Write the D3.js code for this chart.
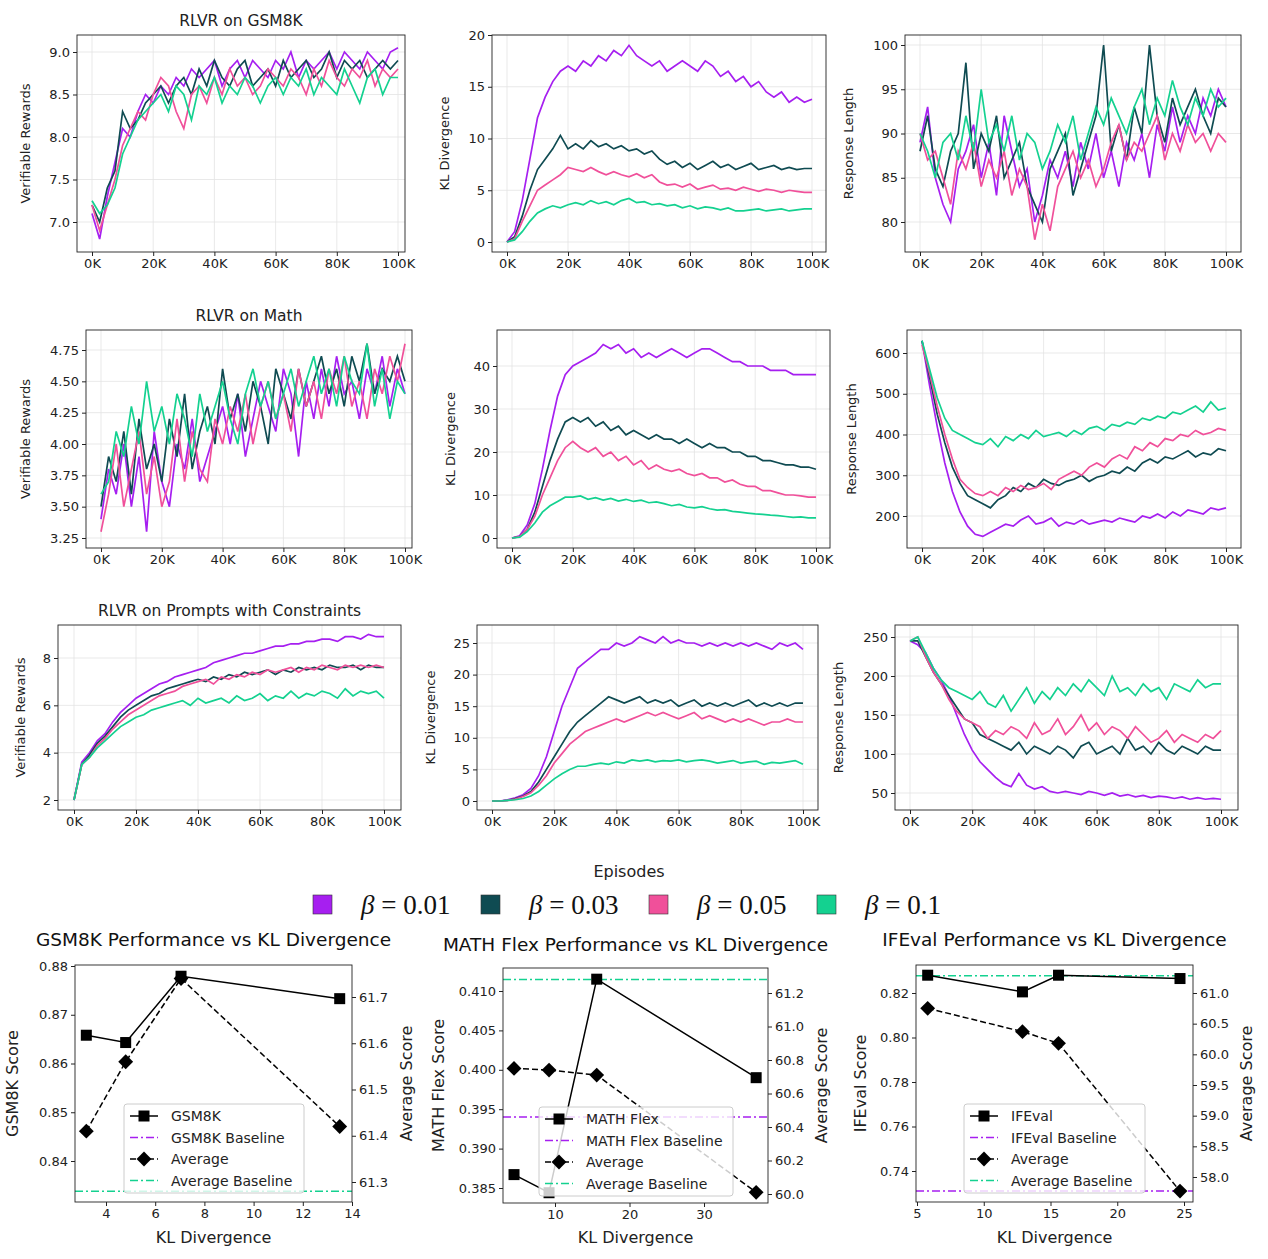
<!DOCTYPE html>
<html><head><meta charset="utf-8">
<script src="https://cdn.jsdelivr.net/npm/d3@7"></script>
<style>body{margin:0;background:#fff}text{font-family:"DejaVu Sans",sans-serif}text.serif{font-family:"Liberation Serif","DejaVu Serif",serif}</style>
</head><body><svg id="c" width="1268" height="1259"></svg>
<script>
const steps = d3.range(0, 100001, 2500);
const betas = ["0.01","0.03","0.05","0.1"];
const colors = ["#a61ff0","#0f4b52","#f0509a","#14d190"];

const gsmReward = [
[7.1,6.8,7.3,7.7,8.1,8.0,8.3,8.5,8.4,8.6,8.5,8.7,8.6,8.8,8.7,8.8,8.9,8.6,8.8,8.9,8.7,8.9,8.8,8.7,8.9,8.8,9.0,8.7,8.9,8.8,8.9,9.0,8.8,9.0,8.9,8.8,9.0,8.9,8.8,9.0,9.05],
[7.2,7.0,7.4,7.6,8.3,8.1,8.2,8.4,8.5,8.6,8.4,8.6,8.7,8.5,8.8,8.6,8.9,8.7,8.6,8.8,8.9,8.6,8.7,8.8,8.6,8.9,8.7,8.8,8.9,8.7,8.8,9.0,8.7,8.9,8.8,8.9,8.7,8.8,8.9,8.8,8.9],
[7.2,6.9,7.2,7.5,7.9,8.1,8.3,8.2,8.5,8.7,8.6,8.3,8.1,8.5,8.6,8.4,8.7,8.5,8.8,8.6,8.7,8.5,8.6,8.8,8.7,8.6,8.8,8.7,8.5,8.8,8.6,8.9,8.7,8.6,8.8,8.7,8.9,8.6,8.8,8.7,8.8],
[7.25,7.1,7.2,7.4,7.8,8.0,8.2,8.3,8.4,8.5,8.3,8.6,8.5,8.2,8.6,8.5,8.7,8.4,8.6,8.5,8.7,8.6,8.4,8.6,8.7,8.5,8.7,8.6,8.8,8.5,8.7,8.6,8.5,8.8,8.6,8.4,8.7,8.8,8.5,8.7,8.7]];
const gsmKL = [
[0,1,4,8,12,14,15.5,16.5,17,16.5,17.5,17,18,17.5,18.5,18,19,18,17.5,17,17.5,16.5,17,17.5,17,16.5,17.5,17,16,16.5,15.5,16,15,15.5,14.5,14,14.5,13.5,14,13.5,13.8],
[0,0.5,2.5,5,7,8,9,10.3,9,9.5,9,9.8,9.2,9.5,9,9.3,8.8,9,8.5,8.8,8,7.5,7.8,7.2,7.6,7,7.4,7.8,7.2,7.5,7,7.3,7.6,7,7.2,7.4,7,7.2,7,7.1,7.1],
[0,0.3,2,3.5,5,5.5,6,6.5,7.2,7,6.8,7.2,6.8,6.5,6.8,6.5,6.3,6.6,6.2,6.5,5.8,5.5,5.6,5.3,5.6,5.1,5.3,5.5,5.1,5.2,5,5.3,5.1,4.9,5.1,5,4.8,5,4.9,4.8,4.8],
[0,0.2,1,2,2.8,3.2,3.5,3.3,3.6,3.8,3.6,4,3.7,3.9,3.6,4,4.2,3.8,3.9,3.6,3.7,3.5,3.6,3.3,3.5,3.2,3.4,3.3,3.1,3.3,3,3,3.1,3.2,3,3.1,3.2,3,3.1,3.2,3.2]];
const gsmLen = [
[89,93,85,82,80,86,88,91,85,89,83,92,88,84,86,80,83,87,85,88,84,89,86,90,85,88,84,89,87,90,85,91,88,93,89,92,90,94,92,95,93],
[88,92,86,84,88,90,98,86,90,88,92,85,87,89,84,82,80,86,88,90,83,86,89,92,100,88,91,87,93,90,100,92,89,94,91,93,95,92,90,94,93],
[90,87,88,85,82,88,86,89,84,87,85,88,83,86,84,78,82,79,84,86,88,85,87,84,86,89,91,87,89,88,90,92,87,90,88,91,89,90,88,90,89],
[90,88,85,89,90,87,92,88,95,89,91,88,92,87,90,89,86,88,91,89,92,87,90,93,91,94,92,90,93,95,91,94,92,96,93,91,94,92,95,93,94]];
const mathReward = [
[3.4,3.8,3.6,4.0,3.5,3.9,3.3,4.1,3.7,3.5,4.0,3.8,4.2,3.7,3.9,4.1,4.3,4.0,4.4,3.9,4.2,4.5,4.3,4.1,4.6,4.4,3.9,4.5,4.2,4.6,4.3,4.7,4.4,4.5,4.2,4.6,4.4,4.7,4.3,4.6,4.4],
[3.5,3.9,3.7,4.1,3.6,4.2,3.8,4.0,3.7,4.2,3.9,4.4,3.8,4.1,4.3,4.0,4.6,4.2,4.4,4.1,4.5,4.3,4.0,4.6,4.4,4.2,4.6,4.3,4.5,4.7,4.4,4.6,4.3,4.7,4.5,4.8,4.4,4.6,4.5,4.7,4.5],
[3.3,3.6,4.0,3.5,3.8,4.1,3.6,3.9,3.5,3.7,4.2,3.7,4.1,3.8,3.7,4.2,4.0,4.3,4.1,4.4,4.0,4.3,4.5,4.2,4.4,4.1,4.6,4.3,4.5,4.2,4.6,4.4,4.7,4.3,4.5,4.2,4.6,4.4,4.7,4.5,4.8],
[3.6,3.7,4.1,3.9,4.3,4.0,4.5,4.1,4.3,4.0,4.4,4.2,3.9,4.4,4.1,4.3,4.5,4.2,4.0,4.4,4.6,4.3,4.5,4.2,4.4,4.6,4.3,4.5,4.7,4.4,4.6,4.3,4.7,4.5,4.4,4.8,4.3,4.6,4.2,4.5,4.4]];
const mathKL = [
[0,0.5,3,8,16,25,33,38,40,41,42,43,45,44,45,43,44,42,43,42,43,44,43,42,43,44,44,43,42,41,41,40,40,40,39,39,39,38,38,38,38],
[0,0.3,2,6,12,18,23,27,28,27,28,26,27,25,26,24,25,24,23,24,23,23,22,23,22,21,22,21,21,20,20,19,19,18,18,17.5,17,17,16.5,16.5,16],
[0,0.3,2,5,10,14,18,21,22.5,21,20,21,19,20,18,19,17,18,16,17,16,15.5,16,15,14.5,15,14,14,13,13.5,12.5,12,12,11,11,10.5,10,10,9.8,9.5,9.5],
[0,0.2,1.5,3.5,6,7.5,8.5,9.5,9.5,9.8,9,9.4,8.8,9.2,8.6,9,8.5,8.8,8.2,8.4,8,7.5,7.8,7.2,7,7.3,6.8,6.5,6.6,6.2,6,5.8,5.6,5.5,5.3,5.2,5,4.8,4.9,4.7,4.7]];
const mathLen = [
[630,520,420,330,260,210,175,155,150,160,170,180,175,190,200,180,185,195,175,185,180,190,180,185,190,185,195,190,185,200,195,205,195,210,200,215,210,205,220,215,220],
[630,540,450,380,320,280,250,240,230,220,240,250,270,260,280,270,290,280,275,285,290,300,285,295,300,310,305,320,310,330,340,330,345,340,350,360,345,355,350,365,360],
[620,550,470,400,340,290,270,255,250,260,250,270,260,275,265,270,280,265,290,300,310,300,320,330,320,340,350,340,370,360,380,370,390,385,400,395,410,400,405,415,410],
[630,560,490,440,410,400,390,380,375,390,370,395,385,400,390,410,395,400,405,395,410,400,415,420,410,425,420,430,425,440,435,445,440,455,450,460,470,455,480,460,465]];
const ifReward = [
[2,3.6,4,4.5,4.8,5.3,5.7,6,6.3,6.5,6.7,6.9,7,7.2,7.3,7.4,7.5,7.6,7.8,7.9,8,8.1,8.2,8.2,8.3,8.4,8.5,8.5,8.6,8.6,8.7,8.7,8.8,8.8,8.7,8.9,8.9,8.8,9,8.9,8.9],
[2,3.5,3.9,4.4,4.7,5.1,5.5,5.8,6,6.2,6.4,6.5,6.7,6.8,6.9,7,7.1,7,7.2,7.1,7.3,7.2,7.4,7.3,7.4,7.5,7.3,7.5,7.4,7.6,7.5,7.6,7.5,7.7,7.6,7.6,7.7,7.5,7.7,7.6,7.6],
[2,3.5,3.8,4.3,4.6,5,5.3,5.6,5.8,6,6.2,6.4,6.5,6.6,6.8,6.9,7,7.1,6.9,7.2,7.1,7.3,7.2,7.4,7.3,7.5,7.4,7.5,7.6,7.4,7.6,7.5,7.7,7.6,7.5,7.7,7.6,7.7,7.6,7.7,7.6],
[2,3.5,3.8,4.2,4.5,4.8,5.1,5.3,5.5,5.6,5.8,5.9,6,6.1,6.2,6,6.3,6.1,6.2,6.3,6.1,6.4,6.2,6.3,6.5,6.2,6.4,6.3,6.6,6.3,6.5,6.4,6.6,6.5,6.3,6.7,6.4,6.6,6.5,6.6,6.3]];
const ifKL = [
[0,0,0.2,0.5,1,2,4,7,11,15,18,21,22,23,24,24,25,24.5,25,26,25.5,25,26,25,25.5,25,25,24.5,25,24.5,25,24.5,25,24.5,25,24.5,24,25,24.5,25,24],
[0,0,0.1,0.4,0.8,1.5,3,5,7,9,11,12.5,13.5,14.5,15.5,16.5,16,15.5,16,16.5,15.5,16,15.5,16,15,15.5,16,15,15.5,15,15.5,15,15.5,16,15,15.5,15,15.5,15,15.5,15.5],
[0,0,0.1,0.3,0.7,1.3,2.5,4,6,7.5,9,10,11,11.5,12,12.5,13,12.5,13,13.5,14,13.5,14,13.5,13,13.5,14,13,13.5,13,12.5,13,12.5,13,12.5,12,12.5,12.5,13,12.5,12.5],
[0,0,0.1,0.2,0.4,0.8,1.5,2.5,3.5,4.3,5,5.5,5.5,5.8,6,5.8,6.2,6,6.5,6.3,6.5,6.2,6.4,6.3,6.5,6.2,6.4,6.5,6.3,6,6.2,6.4,6,6.2,6.3,5.8,6.1,6,6.2,6.4,5.8]];
const ifLen = [
[245,240,230,210,195,175,150,125,105,90,80,70,62,58,75,60,55,58,52,50,52,50,48,52,50,47,50,46,48,45,47,44,46,45,43,45,42,44,42,43,42],
[245,245,225,205,190,175,160,145,140,125,120,115,110,105,115,100,110,105,100,110,105,95,110,115,100,105,110,100,120,105,110,100,115,105,100,110,105,100,110,105,105],
[245,250,225,205,190,170,155,145,140,135,120,130,125,135,130,120,140,125,130,145,125,135,150,130,140,125,135,130,120,135,125,115,120,130,115,125,120,115,125,120,130],
[245,250,230,210,195,185,180,175,170,180,165,160,175,155,170,185,165,180,170,185,175,190,180,195,185,175,200,180,185,175,190,180,185,170,190,185,180,195,185,190,190]];

// bottom panels data
const gsmKLx = [3.2,4.8,7.05,13.5], gsmScore=[0.8658,0.8643,0.8779,0.8733], gsmAvg=[61.41,61.56,61.74,61.42];
const mathKLx = [4.5,9.2,15.6,37], mathScore=[0.3867,0.3844,0.4115,0.3990], mathAvg=[60.75,60.74,60.71,60.01];
const ifKLx = [5.8,12.9,15.6,24.7], ifScore=[0.828,0.8205,0.828,0.8265], ifAvg=[60.75,60.37,60.18,57.77];
const baselines = {gsm:[0.80,61.28], math:[0.394,61.28], ifeval:[0.731,61.28]};

const svg = d3.select("#c");
const xTicks = [0,20000,40000,60000,80000,100000];

const panels = [
 {d:gsmReward, f:[77,405,35,252], x:[92,398], y:[[7,9],[222,52]], t:d3.range(7,9.01,0.5), fmt:".1f", yl:"Verifiable Rewards", ylx:30, title:"RLVR on GSM8K"},
 {d:gsmKL, f:[492,826,35,252], x:[507,812], y:[[0,20],[242,35]], t:[0,5,10,15,20], fmt:"d", yl:"KL Divergence", ylx:449},
 {d:gsmLen, f:[905,1241,35,252], x:[920,1226], y:[[80,100],[222,45]], t:[80,85,90,95,100], fmt:"d", yl:"Response Length", ylx:853},
 {d:mathReward, f:[86,412,330,548], x:[101,405], y:[[3.25,4.75],[538,350]], t:d3.range(3.25,4.76,0.25), fmt:".2f", yl:"Verifiable Rewards", ylx:30, title:"RLVR on Math"},
 {d:mathKL, f:[497,830,330,548], x:[512,816], y:[[0,40],[538,366]], t:[0,10,20,30,40], fmt:"d", yl:"KL Divergence", ylx:455},
 {d:mathLen, f:[907,1241,330,548], x:[922,1226], y:[[200,600],[516,353]], t:[200,300,400,500,600], fmt:"d", yl:"Response Length", ylx:856},
 {d:ifReward, f:[58,401,625,810], x:[74,384], y:[[2,8],[800,658]], t:[2,4,6,8], fmt:"d", yl:"Verifiable Rewards", ylx:25, title:"RLVR on Prompts with Constraints"},
 {d:ifKL, f:[477,818,625,810], x:[492,803], y:[[0,25],[801,643]], t:[0,5,10,15,20,25], fmt:"d", yl:"KL Divergence", ylx:435},
 {d:ifLen, f:[895,1238,625,810], x:[910,1221], y:[[50,250],[793,637]], t:[50,100,150,200,250], fmt:"d", yl:"Response Length", ylx:843},
];

panels.forEach((p,i)=>{
  const [x0,x1,y0,y1]=p.f;
  const xs=d3.scaleLinear().domain([0,100000]).range(p.x);
  const ys=d3.scaleLinear().domain(p.y[0]).range(p.y[1]);
  const g=svg.append("g");
  const cid="clip"+i;
  svg.append("clipPath").attr("id",cid).append("rect").attr("x",x0).attr("y",y0).attr("width",x1-x0).attr("height",y1-y0);
  g.selectAll(".gx").data(xTicks).join("line").attr("x1",d=>xs(d)).attr("x2",d=>xs(d)).attr("y1",y0).attr("y2",y1).attr("stroke","#e3e3e3").attr("stroke-width",0.8);
  g.selectAll(".gy").data(p.t).join("line").attr("y1",d=>ys(d)).attr("y2",d=>ys(d)).attr("x1",x0).attr("x2",x1).attr("stroke","#e3e3e3").attr("stroke-width",0.8);
  const line=d3.line().x((d,j)=>xs(steps[j])).y(d=>ys(d));
  p.d.forEach((s,k)=>g.append("path").attr("d",line(s)).attr("fill","none").attr("stroke",colors[k]).attr("stroke-width",1.7).attr("clip-path",`url(#${cid})`));
  g.append("rect").attr("x",x0).attr("y",y0).attr("width",x1-x0).attr("height",y1-y0).attr("fill","none").attr("stroke","#222").attr("stroke-width",0.9);
  const ax=g.append("g").attr("transform",`translate(0,${y1})`).call(d3.axisBottom(xs).tickValues(xTicks).tickSize(4).tickSizeOuter(0).tickFormat(d=>(d/1000)+"K"));
  const ay=g.append("g").attr("transform",`translate(${x0},0)`).call(d3.axisLeft(ys).tickValues(p.t).tickSize(4).tickSizeOuter(0).tickFormat(d3.format(p.fmt)));
  [ax,ay].forEach(a=>{a.select(".domain").remove();a.selectAll("text").attr("font-size",13).attr("fill","#222");a.selectAll("line").attr("stroke","#222");});
  g.append("text").attr("transform",`translate(${p.ylx},${(y0+y1)/2}) rotate(-90)`).attr("text-anchor","middle").attr("font-size",13).attr("fill","#222").text(p.yl);
  if(p.title) g.append("text").attr("x",(x0+x1)/2).attr("y",y0-9).attr("text-anchor","middle").attr("font-size",15.5).attr("fill","#222").text(p.title);
});

svg.append("text").attr("x",629).attr("y",877).attr("text-anchor","middle").attr("font-size",16).attr("fill","#222").text("Episodes");
const legX=[313,481,649,817];
betas.forEach((b,k)=>{
  svg.append("rect").attr("x",legX[k]).attr("y",895).attr("width",19).attr("height",19).attr("fill",colors[k]).attr("stroke","#333").attr("stroke-width",0.6);
  const t=svg.append("text").attr("class","serif").attr("x",legX[k]+48).attr("y",914).attr("font-size",27).attr("fill","#111");
  t.append("tspan").attr("font-style","italic").text("β");
  t.append("tspan").text(" = "+b);
});

// bottom panels
const bp = [
 {title:"GSM8K Performance vs KL Divergence", ty:946, f:[75,352,965,1202], x:[[4,14],[106,352]], xt:[4,6,8,10,12,14], yl:[[0.84,0.88],[1161,966]], ylt:[0.84,0.85,0.86,0.87,0.88], ylf:".2f", yr:[[61.3,61.7],[1182,997]], yrt:[61.3,61.4,61.5,61.6,61.7], yrf:".1f",
  kx:gsmKLx, sc:gsmScore, av:gsmAvg, bl:baselines.gsm, name:"GSM8K", lab:"GSM8K Score", ll:18, rl:412, leg:[124,1104,180]},
 {title:"MATH Flex Performance vs KL Divergence", ty:951, f:[503,768,968,1203], x:[[10,30],[555,704]], xt:[10,20,30], yl:[[0.385,0.41],[1188,991]], ylt:[0.385,0.39,0.395,0.4,0.405,0.41], ylf:".3f", yr:[[60,61.2],[1194,993]], yrt:[60,60.2,60.4,60.6,60.8,61,61.2], yrf:".1f",
  kx:mathKLx, sc:mathScore, av:mathAvg, bl:baselines.math, name:"MATH Flex", lab:"MATH Flex Score", ll:444, rl:827, leg:[539,1107,194]},
 {title:"IFEval Performance vs KL Divergence", ty:946, f:[916,1193,965,1202], x:[[5,25],[917,1184]], xt:[5,10,15,20,25], yl:[[0.74,0.82],[1171,993]], ylt:[0.74,0.76,0.78,0.8,0.82], ylf:".2f", yr:[[58,61],[1177,993]], yrt:[58,58.5,59,59.5,60,60.5,61], yrf:".1f",
  kx:ifKLx, sc:ifScore, av:ifAvg, bl:baselines.ifeval, name:"IFEval", lab:"IFEval Score", ll:866, rl:1252, leg:[964,1104,181]},
];
const diamond=d3.symbol().type(d3.symbolSquare).size(110);
bp.forEach((p,i)=>{
  const [x0,x1,y0,y1]=p.f;
  const xs=d3.scaleLinear().domain(p.x[0]).range(p.x[1]);
  const yl=d3.scaleLinear().domain(p.yl[0]).range(p.yl[1]);
  const yr=d3.scaleLinear().domain(p.yr[0]).range(p.yr[1]);
  const g=svg.append("g");
  const cid="bclip"+i;
  svg.append("clipPath").attr("id",cid).append("rect").attr("x",x0).attr("y",y0).attr("width",x1-x0).attr("height",y1-y0);
  const cg=g.append("g").attr("clip-path",`url(#${cid})`);
  cg.append("line").attr("x1",x0).attr("x2",x1).attr("y1",yl(p.bl[0])).attr("y2",yl(p.bl[0])).attr("stroke","#a61ff0").attr("stroke-width",1.5).attr("stroke-dasharray","8,3,2,3");
  cg.append("line").attr("x1",x0).attr("x2",x1).attr("y1",yr(p.bl[1])).attr("y2",yr(p.bl[1])).attr("stroke","#14d190").attr("stroke-width",1.5).attr("stroke-dasharray","8,3,2,3");
  cg.append("path").attr("d",d3.line().x((d,j)=>xs(p.kx[j])).y(d=>yl(d))(p.sc)).attr("fill","none").attr("stroke","#000").attr("stroke-width",1.5);
  cg.selectAll(".sq").data(p.sc).join("rect").attr("x",(d,j)=>xs(p.kx[j])-5.5).attr("y",d=>yl(d)-5.5).attr("width",11).attr("height",11).attr("fill","#000");
  cg.append("path").attr("d",d3.line().x((d,j)=>xs(p.kx[j])).y(d=>yr(d))(p.av)).attr("fill","none").attr("stroke","#000").attr("stroke-width",1.5).attr("stroke-dasharray","6,3");
  cg.selectAll(".dm").data(p.av).join("path").attr("d",diamond).attr("transform",(d,j)=>`translate(${xs(p.kx[j])},${yr(d)}) rotate(45)`).attr("fill","#000");
  g.append("rect").attr("x",x0).attr("y",y0).attr("width",x1-x0).attr("height",y1-y0).attr("fill","none").attr("stroke","#222").attr("stroke-width",0.9);
  const ax=g.append("g").attr("transform",`translate(0,${y1})`).call(d3.axisBottom(xs).tickValues(p.xt).tickSize(4).tickSizeOuter(0));
  const al=g.append("g").attr("transform",`translate(${x0},0)`).call(d3.axisLeft(yl).tickValues(p.ylt).tickSize(4).tickSizeOuter(0).tickFormat(d3.format(p.ylf)));
  const ar=g.append("g").attr("transform",`translate(${x1},0)`).call(d3.axisRight(yr).tickValues(p.yrt).tickSize(4).tickSizeOuter(0).tickFormat(d3.format(p.yrf)));
  [ax,al,ar].forEach(a=>{a.select(".domain").remove();a.selectAll("text").attr("font-size",13).attr("fill","#222");a.selectAll("line").attr("stroke","#222");});
  g.append("text").attr("x",(x0+x1)/2).attr("y",1243).attr("text-anchor","middle").attr("font-size",16).attr("fill","#222").text("KL Divergence");
  g.append("text").attr("transform",`translate(${p.ll},${(y0+y1)/2}) rotate(-90)`).attr("text-anchor","middle").attr("font-size",16).attr("fill","#222").text(p.lab);
  g.append("text").attr("transform",`translate(${p.rl},${(y0+y1)/2}) rotate(-90)`).attr("text-anchor","middle").attr("font-size",16).attr("fill","#222").text("Average Score");
  g.append("text").attr("x",(x0+x1)/2).attr("y",p.ty).attr("text-anchor","middle").attr("font-size",18.5).attr("fill","#111").text(p.title);
  const [lx,ly,lw]=p.leg;
  const lg=g.append("g");
  lg.append("rect").attr("x",lx).attr("y",ly).attr("width",lw).attr("height",89).attr("rx",3).attr("fill","rgba(255,255,255,0.8)").attr("stroke","#ccc");
  const items=[[p.name,"sq"],[p.name+" Baseline","pb"],["Average","dm"],["Average Baseline","gb"]];
  items.forEach((it,k)=>{
    const yy=ly+12+k*21.5;
    const ln=lg.append("line").attr("x1",lx+6).attr("x2",lx+34).attr("y1",yy).attr("y2",yy).attr("stroke-width",1.5);
    if(it[1]=="sq"){ln.attr("stroke","#000");lg.append("rect").attr("x",lx+14.5).attr("y",yy-5.5).attr("width",11).attr("height",11);}
    if(it[1]=="dm"){ln.attr("stroke","#000").attr("stroke-dasharray","6,3");lg.append("path").attr("d",diamond).attr("transform",`translate(${lx+20},${yy}) rotate(45)`);}
    if(it[1]=="pb"){ln.attr("stroke","#a61ff0").attr("stroke-dasharray","8,3,2,3");}
    if(it[1]=="gb"){ln.attr("stroke","#14d190").attr("stroke-dasharray","8,3,2,3");}
    lg.append("text").attr("x",lx+47).attr("y",yy+5).attr("font-size",14).attr("fill","#222").text(it[0]);
  });
});
</script></body></html>
